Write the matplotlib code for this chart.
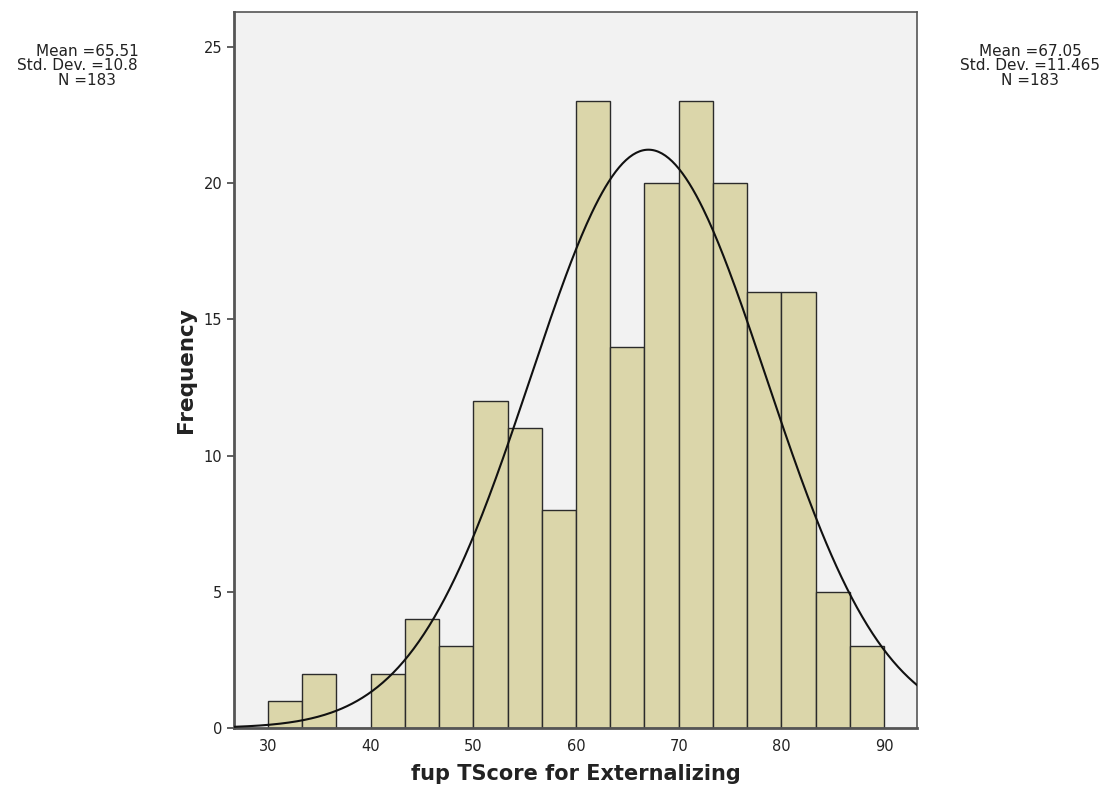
import numpy as np
import matplotlib.pyplot as plt
from matplotlib.patches import Rectangle

# histogram of fup TScore for Externalizing
bin_edges = np.linspace(30, 90, 19)
counts = [1, 2, 0, 2, 4, 3, 12, 11, 8, 23, 14, 20, 23, 20, 16, 16, 5, 3]
mean = 67.05
sd = 11.465
n = 183
x_ticks = [30, 40, 50, 60, 70, 80, 90]
y_ticks = [0, 5, 10, 15, 20, 25]

fig = plt.figure(figsize=(11.17, 7.94), dpi=100)
ax = fig.add_axes([234/1117, 1 - 728/794, 683/1117, 716/794])
ax.set_facecolor('#f2f2f2')

widths = np.diff(bin_edges)
ax.bar(bin_edges[:-1], counts, width=widths, align='edge',
       color='#dbd6aa', edgecolor='#2b2b2b', linewidth=1.0, zorder=2)

# normal curve scaled to counts
xs = np.linspace(26.7, 93.2, 400)
bw = widths[0]
ys = n * bw / (sd * np.sqrt(2 * np.pi)) * np.exp(-0.5 * ((xs - mean) / sd) ** 2)
ax.plot(xs, ys, color='#111111', linewidth=1.5, zorder=3)

ax.set_xlim(26.7, 93.2)
ax.set_ylim(0, 26.28)
ax.set_xticks(x_ticks)
ax.set_yticks(y_ticks)
ax.tick_params(axis='both', labelsize=10.5, color='#444444', labelcolor='#222222',
               length=5, width=1.2, direction='out')
ax.tick_params(axis='x', length=0, pad=8)
for s in ax.spines.values():
    s.set_color('#555555')
    s.set_linewidth(1.2)
ax.spines['left'].set_linewidth(2.0)
ax.spines['bottom'].set_linewidth(2.0)

ax.set_xlabel('fup TScore for Externalizing', fontsize=15, fontweight='bold',
              color='#222222', labelpad=7)
ax.set_ylabel('Frequency', fontsize=15.5, fontweight='bold', color='#222222', labelpad=5)

fig.text(1030/1117, 1 - 44/794,
         'Mean =%.2f\nStd. Dev. =%.3f\nN =%d' % (mean, sd, n),
         ha='center', va='top', fontsize=11, color='#222222', linespacing=0.95)

# left-hand summary, cut off at its right edge like in the source
t = fig.text(87/1117, 1 - 44/794, 'Mean =65.51\nStd. Dev. =10.848\nN =183',
             ha='center', va='top', fontsize=11, color='#222222', linespacing=0.95)
clip = Rectangle((0, 0), 138/1117, 1, transform=fig.transFigure, visible=False)
fig.add_artist(clip)
t.set_clip_path(clip)

fig.savefig('out.png', dpi=100)
